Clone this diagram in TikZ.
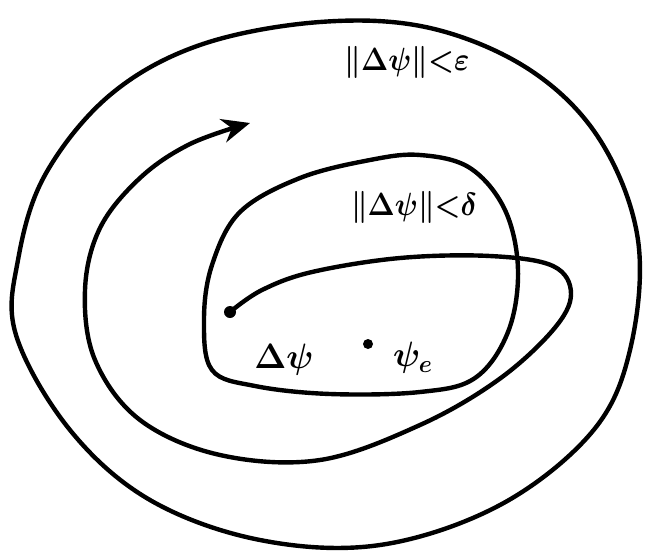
\documentclass[tikz,border=0pt]{standalone}
\usetikzlibrary{arrows.meta}
\begin{document}
\begin{tikzpicture}[x=1pt,y=-1pt,
  pen/.style={line width=4.4pt,line cap=round,line join=round},
  lbl/.style={font=\huge\boldmath, inner sep=0pt, transform shape}]
\useasboundingbox (0,0) rectangle (648,555);
% outer region
\draw[pen] plot[smooth cycle,tension=0.6] coordinates{
 (18,260) (45,175) (110,95) (200,45) (320,22) (430,28) (530,70) (600,140)
 (638,240) (630,350) (592,432) (500,505) (380,545) (260,540) (150,500) (70,430) (16,335)};
% inner region
\draw[pen] plot[smooth cycle,tension=0.6] coordinates{
 (212,265) (240,212) (300,178) (370,160) (420,155) (470,168) (505,210)
 (518,270) (508,332) (475,378) (420,392) (330,394) (255,386) (212,370) (204,320)};
% trajectory
\node[circle,fill,inner sep=0pt,minimum size=12pt] (start) at (230,312) {};
\coordinate (tip) at (250,123);
\draw[pen,-{Stealth[length=28pt,width=24pt]}] (start.center) plot[smooth,tension=0.6] coordinates{
 (230,312) (262,290) (312,272) (400,258) (490,256) (553,266) (571,294) (553,330)
 (498,380) (420,425) (320,460) (220,455) (140,420) (95,360) (85,290) (100,228)
 (140,178) (190,144) (250,123)};
\node[circle,fill,inner sep=0pt,minimum size=10pt] (eq) at (368,344) {};
% labels
\node[lbl,xscale=1.4,yscale=1.55] (eps) at (407,62) {$\|\Delta\psi\|{<}\varepsilon$};
\node[lbl,xscale=1.4,yscale=1.55] (del) at (414,207) {$\|\Delta\psi\|{<}\delta$};
\node[lbl,xscale=1.65,yscale=1.7] (dpsi) at (284,360) {$\Delta\psi$};
\node[lbl,xscale=1.65,yscale=1.7] (psie) at (413,358) {$\psi_e$};
\end{tikzpicture}
\end{document}
